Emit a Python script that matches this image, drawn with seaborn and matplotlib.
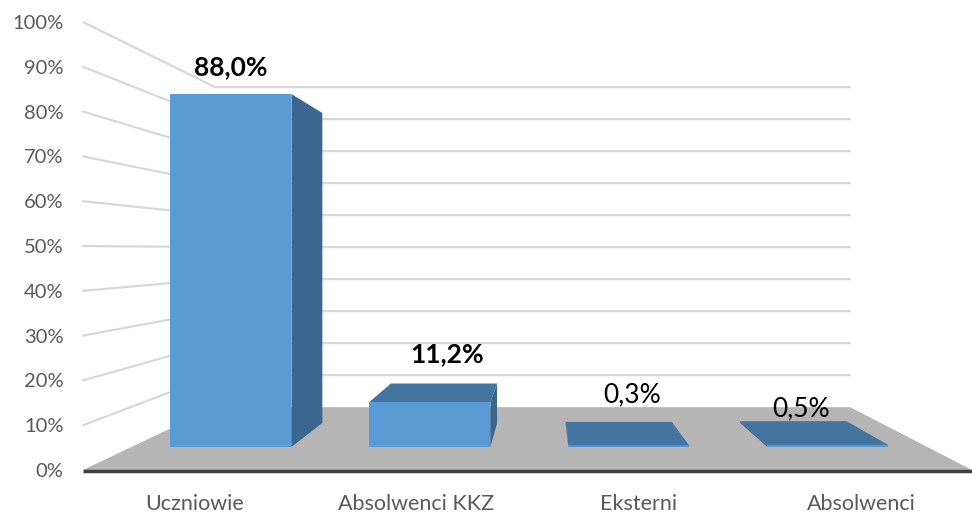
# Recreation of a 3D-style Excel column chart (seaborn + matplotlib)
import matplotlib
matplotlib.use("Agg")
import matplotlib.pyplot as plt
import seaborn as sns

# ------------------------------------------------------------------
# Data
# ------------------------------------------------------------------
categories = ["Uczniowie", "Absolwenci KKZ", "Eksterni", "Absolwenci"]
values = [88.0, 11.2, 0.3, 0.5]
value_labels = ["88,0%", "11,2%", "0,3%", "0,5%"]
y_ticks = [0, 10, 20, 30, 40, 50, 60, 70, 80, 90, 100]

# ------------------------------------------------------------------
# Style
# ------------------------------------------------------------------
sns.set_theme(style="white")
plt.rcParams['font.family'] = ['Lato', 'DejaVu Sans']

front_col = "#5b9bd5"
side_col = "#3a6690"
top_col = "#4474a0"
floor_col = "#b5b5b5"
grid_col = "#d6d6d6"
text_col = "#595959"

# perspective settings (vanishing point in data units, depth factor)
XV, YV, K = 1.58, 49.1, 0.4
Z0, Z1 = 0.293, 0.68   # bar front / back depth
BW = 0.608             # bar width


def proj(x, y, z):
    # project a point (x, y, depth) onto the front plane
    s = 1.0 / (1.0 + K * z)
    return XV + (x - XV) * s, YV + (y - YV) * s


def face(ax, pts, color, zorder):
    p = [proj(*q) for q in pts]
    ax.fill([a for a, b in p], [b for a, b in p], color=color, lw=0,
            zorder=zorder, clip_on=False)


fig = plt.figure(figsize=(9.72, 5.13), dpi=100)
ax = fig.add_axes([83 / 972, 43 / 513, 889 / 972, 448 / 513])
ax.set_xlim(-0.5, 3.5)
ax.set_ylim(0, 100)

# floor
face(ax, [(-0.5, 0, 0), (3.5, 0, 0), (3.5, 0, 1), (-0.5, 0, 1)], floor_col, 1)
ax.plot([-0.5, 3.5], [-0.3, -0.3], color="#404040", lw=2.5, zorder=2,
        clip_on=False, solid_capstyle="butt")

# back wall + side wall gridlines
for t in y_ticks[1:]:
    p0 = proj(-0.5, t, 0)
    p1 = proj(-0.5, t, 1)
    p2 = proj(3.5, t, 1)
    ax.plot([p0[0], p1[0], p2[0]], [p0[1], p1[1], p2[1]], color=grid_col,
            lw=1.5, zorder=0, clip_on=False)

# bars
for i, v in enumerate(values):
    x0, x1 = i - BW / 2, i + BW / 2
    if v < YV:
        face(ax, [(x0, v, Z0), (x1, v, Z0), (x1, v, Z1), (x0, v, Z1)], top_col, 3)
    if x1 < XV:
        face(ax, [(x1, 0, Z0), (x1, v, Z0), (x1, v, Z1), (x1, 0, Z1)], side_col, 3)
    elif x0 > XV:
        face(ax, [(x0, 0, Z0), (x0, v, Z0), (x0, v, Z1), (x0, 0, Z1)], side_col, 3)
    face(ax, [(x0, 0, Z0), (x1, 0, Z0), (x1, v, Z0), (x0, v, Z0)], front_col, 4)

# data labels (offsets in pixels from the bar's front top)
label_dx = [0, 17, 3, -27]
label_dy = [27, 48, 51, 36]
label_w = ["bold", "bold", "normal", "normal"]
for i, v in enumerate(values):
    px, py = proj(i, v, Z0)
    ax.annotate(value_labels[i], (px, py), xytext=(label_dx[i] * 0.72, label_dy[i] * 0.72),
                textcoords="offset points", ha="center", va="center",
                fontsize=19, fontweight=label_w[i], color="black", zorder=6)

# axes
ax.set_yticks(y_ticks)
ax.set_yticklabels([f"{t}%" for t in y_ticks])
ax.set_xticks(range(len(categories)))
ax.set_xticklabels(categories)
ax.tick_params(axis="y", length=0, pad=14, labelsize=14.5, labelcolor=text_col)
ax.tick_params(axis="x", length=0, pad=17, labelsize=15.5, labelcolor=text_col)
sns.despine(ax=ax, left=True, bottom=True)
ax.grid(False)
ax.patch.set_alpha(0)

fig.savefig("out.png", dpi=100)
